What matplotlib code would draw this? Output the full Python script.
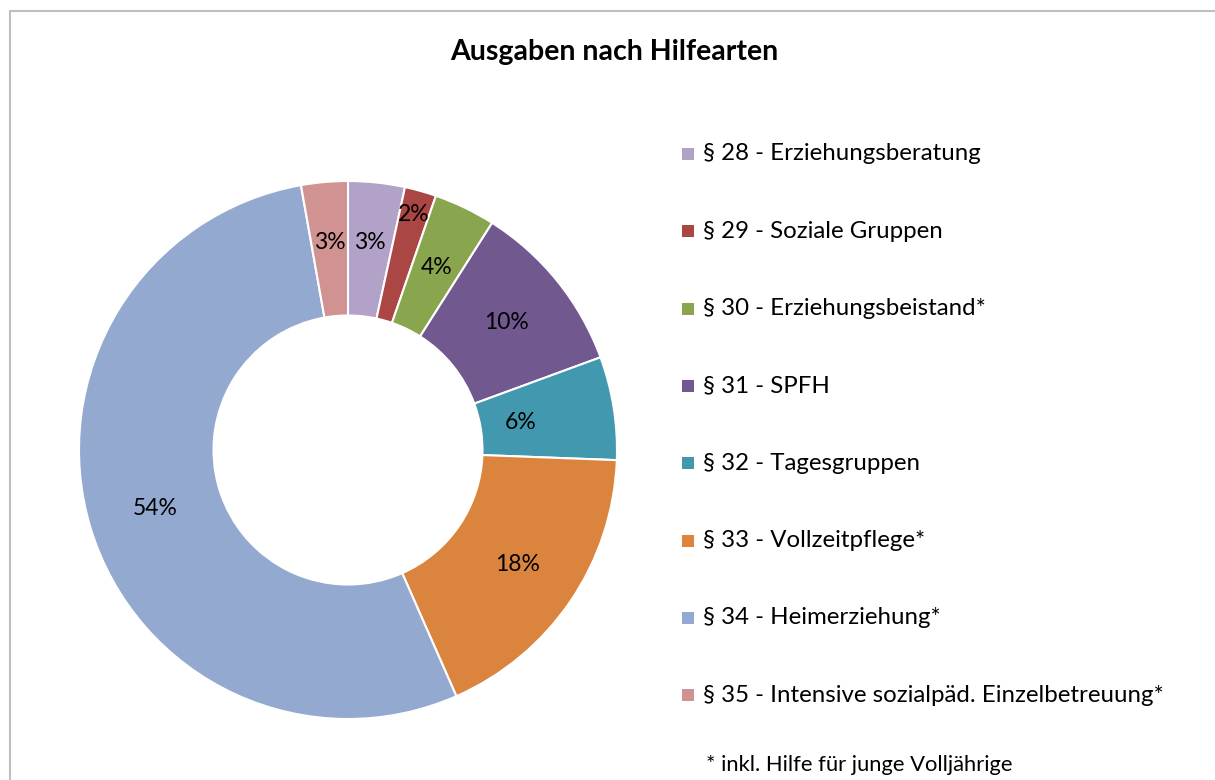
import numpy as np
import matplotlib
matplotlib.use("Agg")
import matplotlib.pyplot as plt
from matplotlib.patches import Rectangle

plt.rcParams['font.family'] = ['Lato', 'DejaVu Sans']

title = "Ausgaben nach Hilfearten"
categories = [
    "§ 28 - Erziehungsberatung",
    "§ 29 - Soziale Gruppen",
    "§ 30 - Erziehungsbeistand*",
    "§ 31 - SPFH",
    "§ 32 - Tagesgruppen",
    "§ 33 - Vollzeitpflege*",
    "§ 34 - Heimerziehung*",
    "§ 35 - Intensive sozialpäd. Einzelbetreuung*",
]
values = [3.4, 1.9, 3.7, 10.4, 6.2, 17.8, 53.8, 2.8]
pct_labels = ["3%", "2%", "4%", "10%", "6%", "18%", "54%", "3%"]
colors = ["#B2A2C7", "#AA4643", "#89A54E", "#71588F", "#4198AF",
          "#DB843D", "#93A9CF", "#D19392"]
label_dist = [0.775, 0.91, 0.755, 0.755, 0.65, 0.76, 0.75, 0.775]
footnote = "* inkl. Hilfe für junge Volljährige"

W, H = 1215, 780
fig = plt.figure(figsize=(W / 100, H / 100), dpi=100)

# chart border
fig.patches.append(Rectangle((10 / W, -0.05), 1.2, 1 - 11 / H + 0.05,
                             transform=fig.transFigure, fill=False,
                             edgecolor="#BFBFBF", linewidth=1.5))

cx, cy, r = 348, 450, 269
ax = fig.add_axes([(cx - r) / W, (H - cy - r) / H, 2 * r / W, 2 * r / H])
wedges, _ = ax.pie(values, colors=colors, startangle=90, counterclock=False,
                   radius=1.0,
                   wedgeprops=dict(width=0.5, edgecolor="white", linewidth=1.5))
ax.set_xlim(-1, 1)
ax.set_ylim(-1, 1)
ax.set_aspect("equal")
ax.axis("off")

for w, lab, d in zip(wedges, pct_labels, label_dist):
    ang = np.deg2rad((w.theta1 + w.theta2) / 2)
    ax.text(d * np.cos(ang), d * np.sin(ang), lab, ha="center", va="center",
            fontsize=16.5, color="black")

fig.text(614 / W, 1 - 52 / H, title, ha="center", va="center",
         fontsize=20.5, fontweight="bold")

y0, dy = 154, 77.3
for i, (cat, col) in enumerate(zip(categories, colors)):
    y = 1 - (y0 + i * dy) / H
    fig.patches.append(Rectangle((682 / W, y - 6 / H), 12 / W, 12 / H,
                                 transform=fig.transFigure, facecolor=col,
                                 edgecolor="none"))
    fig.text(703 / W, y, cat, ha="left", va="center", fontsize=17.3)

fig.text(706 / W, 1 - 765 / H, footnote, ha="left", va="center", fontsize=15.8)

fig.savefig("out.png", dpi=100, facecolor="white")
